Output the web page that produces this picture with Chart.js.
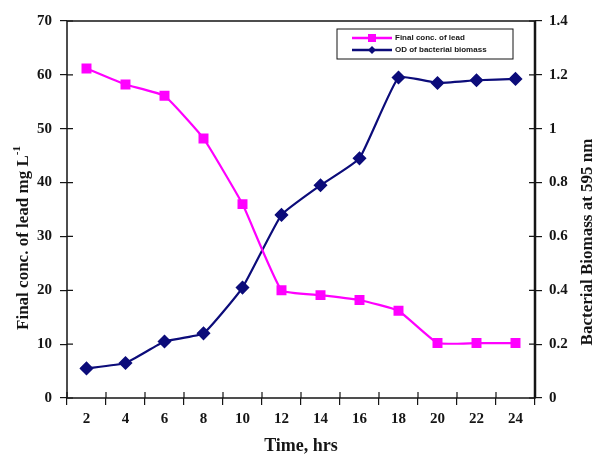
<!DOCTYPE html>
<html>
<head>
<meta charset="utf-8">
<script src="https://cdn.jsdelivr.net/npm/chart.js@4/dist/chart.umd.min.js"></script>
<style>
  html, body { margin: 0; padding: 0; background: #fff; }
  #wrap { width: 598px; height: 456px; position: relative; }
</style>
</head>
<body>
<div id="wrap"><canvas id="c" width="598" height="456"></canvas></div>
<script>
// Sampling times (hours)
const timeHrs = ['2', '4', '6', '8', '10', '12', '14', '16', '18', '20', '22', '24'];
// Residual lead in the medium (mg/L)
const leadConc = [61.2, 58.2, 56.1, 48.2, 36, 20, 19.1, 18.2, 16.2, 10.2, 10.2, 10.2];
// Optical density of the bacterial culture at 595 nm
const biomassOD = [0.11, 0.13, 0.21, 0.24, 0.41, 0.68, 0.79, 0.89, 1.19, 1.17, 1.18, 1.185];

const leadLabel = 'Final conc. of lead';
const odLabel = 'OD of bacterial biomass';
const leftTitle = 'Final conc. of lead mg L';
const rightTitle = 'Bacterial Biomass at 595 nm';
const xTitle = 'Time, hrs';

const SERIF = '"Liberation Serif", "DejaVu Serif", serif';
const INK = '#151515';

// Frame, inward tick halves, rotated titles and the boxed legend
const decor = {
  id: 'decor',
  afterDraw(chart) {
    const ctx = chart.ctx;
    const a = chart.chartArea;
    const x = chart.scales.x, yl = chart.scales.y, yr = chart.scales.y1;
    ctx.save();
    ctx.strokeStyle = INK;
    ctx.lineWidth = 1.5;
    ctx.strokeRect(a.left, a.top, a.right - a.left, a.bottom - a.top);
    ctx.lineWidth = 2.5;
    ctx.beginPath(); ctx.moveTo(a.right, a.top); ctx.lineTo(a.right, a.bottom); ctx.stroke();
    ctx.lineWidth = 1.2;
    ctx.beginPath();
    yl.ticks.forEach(t => { const py = yl.getPixelForValue(t.value); ctx.moveTo(a.left, py); ctx.lineTo(a.left + 6, py); });
    yr.ticks.forEach(t => { const py = yr.getPixelForValue(t.value); ctx.moveTo(a.right, py); ctx.lineTo(a.right - 6, py); });
    for (let i = 0; i <= timeHrs.length; i++) {
      const px = x.getPixelForValue(i - 0.5);
      ctx.moveTo(px, a.bottom); ctx.lineTo(px, a.bottom - 6);
    }
    ctx.stroke();

    // left axis title with superscript -1
    ctx.fillStyle = INK;
    ctx.save();
    ctx.translate(24, 238);
    ctx.rotate(-Math.PI / 2);
    ctx.font = 'bold 17px ' + SERIF;
    ctx.textBaseline = 'middle';
    const w1 = ctx.measureText(leftTitle).width;
    ctx.font = 'bold 11px ' + SERIF;
    const w2 = ctx.measureText('-1').width;
    const start = -(w1 + w2) / 2;
    ctx.font = 'bold 17px ' + SERIF;
    ctx.textAlign = 'left';
    ctx.fillText(leftTitle, start, 0);
    ctx.font = 'bold 11px ' + SERIF;
    ctx.fillText('-1', start + w1, -7);
    ctx.restore();

    // right axis title, reading bottom to top
    ctx.save();
    ctx.translate(588, 242);
    ctx.rotate(-Math.PI / 2);
    ctx.font = 'bold 17px ' + SERIF;
    ctx.textAlign = 'center';
    ctx.textBaseline = 'middle';
    ctx.fillText(rightTitle, 0, 0);
    ctx.restore();

    // legend box
    const lx = 337, ly = 29, lw = 176, lh = 30;
    ctx.fillStyle = '#fff';
    ctx.fillRect(lx, ly, lw, lh);
    ctx.lineWidth = 1;
    ctx.strokeStyle = INK;
    ctx.strokeRect(lx, ly, lw, lh);
    chart.data.datasets.forEach((ds, i) => {
      const cy = ly + 9 + i * 12;
      ctx.strokeStyle = ds.borderColor;
      ctx.lineWidth = 2.5;
      ctx.beginPath(); ctx.moveTo(lx + 15, cy); ctx.lineTo(lx + 55, cy); ctx.stroke();
      ctx.fillStyle = ds.pointBackgroundColor;
      if (ds.pointStyle === 'rect') {
        ctx.fillRect(lx + 35 - 4, cy - 4, 8, 8);
      } else {
        ctx.beginPath();
        ctx.moveTo(lx + 35, cy - 4); ctx.lineTo(lx + 39, cy); ctx.lineTo(lx + 35, cy + 4); ctx.lineTo(lx + 31, cy);
        ctx.closePath(); ctx.fill();
      }
      ctx.fillStyle = INK;
      ctx.font = 'bold 8px "Liberation Sans", Arial, sans-serif';
      ctx.textAlign = 'left';
      ctx.textBaseline = 'middle';
      ctx.fillText(ds.label, lx + 58, cy);
    });
    ctx.restore();
  }
};

new Chart(document.getElementById('c'), {
  type: 'line',
  data: {
    labels: timeHrs,
    datasets: [
      {
        label: leadLabel,
        data: leadConc,
        yAxisID: 'y',
        borderColor: '#ff00ff',
        backgroundColor: '#ff00ff',
        pointBackgroundColor: '#ff00ff',
        pointBorderColor: '#ff00ff',
        pointStyle: 'rect',
        pointRadius: 5.5,
        borderWidth: 2.2,
        tension: 0.12
      },
      {
        label: odLabel,
        data: biomassOD,
        yAxisID: 'y1',
        borderColor: '#0c0c7a',
        backgroundColor: '#0c0c7a',
        pointBackgroundColor: '#0c0c7a',
        pointBorderColor: '#0c0c7a',
        pointStyle: 'rectRot',
        pointRadius: 5.5,
        borderWidth: 2.2,
        tension: 0.12
      }
    ]
  },
  options: {
    responsive: false,
    animation: false,
    devicePixelRatio: 1,
    layout: { padding: { top: 21, left: 0, right: 0, bottom: 0 } },
    plugins: { legend: { display: false }, tooltip: { enabled: false } },
    scales: {
      x: {
        offset: true,
        grid: { offset: true, drawOnChartArea: false, color: INK, tickLength: 7, lineWidth: 1.2 },
        border: { display: false },
        ticks: { color: INK, font: { family: SERIF, weight: 'bold', size: 15 }, padding: 5, maxRotation: 0 },
        title: { display: true, text: xTitle, color: INK, font: { family: SERIF, weight: 'bold', size: 18 }, padding: { top: 0, bottom: -1 } },
        afterFit(s) { s.height = 58; }
      },
      y: {
        position: 'left',
        min: 0, max: 70,
        grid: { drawOnChartArea: false, color: INK, tickLength: 7, lineWidth: 1.2 },
        border: { display: false },
        ticks: { stepSize: 10, color: INK, font: { family: SERIF, weight: 'bold', size: 15 }, padding: 8 },
        afterFit(s) { s.width = 67; }
      },
      y1: {
        position: 'right',
        min: 0, max: 1.4,
        grid: { drawOnChartArea: false, color: INK, tickLength: 7, lineWidth: 1.2 },
        border: { display: false },
        ticks: { stepSize: 0.2, color: INK, font: { family: SERIF, weight: 'bold', size: 15 }, padding: 7,
                 callback: v => Number(v.toFixed(1)).toString() },
        afterFit(s) { s.width = 63; }
      }
    }
  },
  plugins: [decor]
});
</script>
</body>
</html>
